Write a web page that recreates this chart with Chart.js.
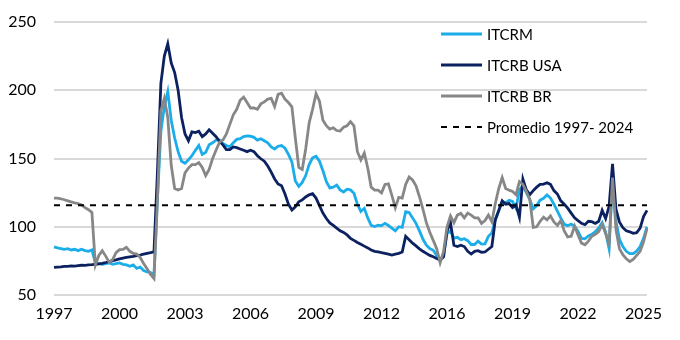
<!DOCTYPE html>
<html>
<head>
<meta charset="utf-8">
<script src="https://cdn.jsdelivr.net/npm/chart.js@4.4.1/dist/chart.umd.min.js"></script>
<style>
html, body { margin: 0; padding: 0; background: #fff; }
</style>
</head>
<body>
<canvas id="chart" width="680" height="340"></canvas>
<script>
// bimonthly points, Jan 1997 -> Sep 2025
const startYear = 1997;
const tickYears = ['1997', '2000', '2003', '2006', '2009', '2012', '2016', '2019', '2022', '2025'];
const tickStep = 19; // one label every 38 months

const itcrm = [
    85.3, 84.5, 84, 83.5, 84, 83, 83.5, 82.5, 83.5, 82.5, 82, 83,
    73.5, 73, 72.5, 73, 73.5, 72.5, 73, 73.5, 72.5, 72, 71, 72,
    69.5, 70.5, 68, 67, 66.5, 65, 120, 170, 188, 199, 178, 165,
    155, 148, 146.5, 149, 152, 156, 159.5, 153, 154.5, 160, 161.5, 163.5,
    163.5, 161, 159.5, 158.5, 161.5, 164, 164.5, 166, 166.5, 166.3, 165.5, 163.5,
    164.5, 163, 161.5, 158.5, 157, 159, 159.5, 157.5, 153, 147.5, 133.5, 129.5,
    132.5, 137.5, 145.5, 150.5, 151.7, 148, 141, 133, 128.5, 129, 130.5, 127,
    125.5, 127.5, 127, 124.5, 116.5, 111.2, 113.5, 106.5, 101, 100.2, 101.1, 100.8,
    102.5, 100.9, 99, 97, 100, 99.5, 111, 110.5, 106.5, 102.5, 97, 91,
    86.5, 84, 82.8, 79, 74.7, 80, 95, 97, 91.6, 92.3, 90.5, 91.2,
    89.8, 87, 87, 89.5, 87.3, 87.5, 93, 95.5, 105.3, 111.5, 118.5, 117.5,
    119.3, 118.5, 113.6, 127, 130, 125, 120, 113.2, 115.5, 119.5, 120.8, 123.3,
    121, 116.5, 111.5, 106.3, 101.8, 100.8, 102, 100.3, 96.5, 91.5, 91.2, 93.3,
    94.5, 96.5, 99, 103, 96, 84, 134, 104, 91, 85.5, 82, 80.3,
    80.3, 82.2, 85.5, 91.5, 100
];

const itcrbUsa = [
    70.2, 70.4, 70.6, 70.9, 71, 71.3, 71.2, 71.5, 71.8, 71.7, 72, 72.2,
    72.5, 72.8, 73.2, 73.8, 74.5, 75.2, 75.8, 76.5, 77, 77.5, 78, 78.3,
    78.8, 79.3, 80, 80.5, 81, 81.6, 140, 205, 225, 234, 220, 213,
    200, 180, 168, 163, 169.5, 169, 170, 166, 168, 171, 168.5, 166,
    162.5, 160, 156.5, 156.5, 158.5, 158, 157, 156, 155, 156, 155, 152,
    149.8, 148, 144.5, 140, 135, 131.3, 130, 124, 116.5, 112.3, 114.6, 118.3,
    119.7, 121.8, 123.4, 124.3, 121, 115.5, 110, 106, 102.8, 101, 99, 97,
    95.8, 94, 91.5, 90, 88.5, 87.2, 85.8, 84.5, 83, 82, 81.6, 81,
    80.5, 80, 79.3, 80, 80.5, 81.5, 93, 90.5, 88, 86, 83.8, 82,
    80.5, 79, 78, 76.8, 75.6, 78, 97, 103, 86.5, 85.5, 86.5, 85.5,
    82, 80, 82, 82.5, 81.3, 81.5, 83.5, 85.5, 105, 112, 119, 116.5,
    117, 114, 116, 107, 135, 127, 123.5, 126.5, 129, 131, 131.2, 132.2,
    131, 126.5, 124, 119, 116.5, 113.6, 110, 106.5, 104.5, 102.5, 101.5, 104,
    103.7, 102.4, 104, 112, 106, 115, 146, 113, 103.5, 99.3, 97, 96.3,
    95.2, 95.6, 99, 107.5, 112
];

const itcrbBr = [
    121, 121, 120.5, 119.8, 119, 118.2, 117.5, 117, 116, 114, 112.5, 110.5,
    72, 79, 82.5, 78.5, 74, 76, 81, 83.2, 83.4, 85, 82, 80.5,
    80, 77.5, 73, 69.3, 65, 62, 120, 185, 194, 180, 145, 128,
    127, 128, 139.5, 143, 145.5, 145.5, 147, 143.5, 137.5, 142, 150, 156,
    162, 163.5, 168, 175, 182, 186, 192.7, 195, 191, 187, 187, 186,
    190, 191.5, 193.5, 194, 188, 197, 197.8, 193.5, 191, 187.8, 165, 143.5,
    142, 157, 176, 186, 197.5, 192, 178, 174, 171.5, 172.5, 170.5, 170.2,
    173, 174, 177, 174, 155, 149, 154, 143, 129, 126.8, 126.8, 124.8,
    131, 131.5, 123, 114, 121.5, 121, 131, 136.4, 134.3, 130, 122, 113,
    103, 96, 90, 84, 73.7, 82, 100, 108, 103, 108.5, 109.8, 106.5,
    110, 108.5, 106.5, 106.5, 102.5, 104.5, 108.5, 103.7, 117, 128, 136, 128,
    126.8, 125.8, 123.5, 133, 131, 126, 120, 99.5, 100, 104, 107, 105,
    108, 103.5, 101, 104.5, 97, 92.5, 93, 100.5, 94, 88, 86.8, 89.5,
    93, 94.5, 96.5, 101.5, 95, 87.5, 136, 98, 84, 79.5, 76.5, 74.5,
    76, 79, 82, 89, 98.8
];

const promedio = 115.8;
const seriesNames = ['ITCRM', 'ITCRB USA', 'ITCRB BR', 'Promedio 1997- 2024'];

const months = itcrm.map((v, i) => {
    const m = i * 2;
    return (startYear + Math.floor(m / 12)) + '-' + String(m % 12 + 1).padStart(2, '0');
});

const fontFamily = 'Lato, "Open Sans", sans-serif';

// legend sits inside the plot, top right, like the original
const insideLegend = {
    id: 'insideLegend',
    afterDraw(chart) {
        const ctx = chart.ctx;
        ctx.save();
        ctx.font = '15px ' + fontFamily;
        ctx.textBaseline = 'middle';
        chart.data.datasets.forEach((ds, i) => {
            const y = 34 + i * 31;
            ctx.strokeStyle = ds.borderColor;
            ctx.lineWidth = ds.borderWidth;
            ctx.setLineDash(ds.borderDash || []);
            ctx.beginPath();
            ctx.moveTo(441, y);
            ctx.lineTo(482, y);
            ctx.stroke();
            ctx.setLineDash([]);
            ctx.fillStyle = '#000';
            ctx.fillText(ds.label, 487, y + 1);
        });
        ctx.restore();
    }
};

new Chart(document.getElementById('chart'), {
    type: 'line',
    data: {
        labels: months,
        datasets: [
            { label: seriesNames[0], data: itcrm, borderColor: '#1badea', borderWidth: 2.8, order: 3 },
            { label: seriesNames[1], data: itcrbUsa, borderColor: '#0c2160', borderWidth: 2.8, order: 2 },
            { label: seriesNames[2], data: itcrbBr, borderColor: '#878787', borderWidth: 2.8, order: 1 },
            { label: seriesNames[3], data: months.map(() => promedio), borderColor: '#000', borderWidth: 2, borderDash: [6, 6], order: 0 }
        ]
    },
    options: {
        responsive: false,
        animation: false,
        elements: {
            point: { radius: 0 },
            line: { tension: 0, borderCapStyle: 'butt' }
        },
        layout: {
            padding: { top: 22, right: 33, left: 0, bottom: 0 }
        },
        plugins: {
            legend: { display: false },
            tooltip: { enabled: false }
        },
        scales: {
            x: {
                offset: false,
                grid: { display: false, drawTicks: false },
                border: { display: false },
                ticks: {
                    autoSkip: false,
                    maxRotation: 0,
                    padding: 9,
                    color: '#000',
                    font: { family: fontFamily, size: 16 },
                    callback: function(value, index) {
                        return index % tickStep === 0 ? tickYears[index / tickStep] : null;
                    }
                },
                afterFit: function(scale) { scale.height = 45; }
            },
            y: {
                min: 50,
                max: 250,
                grid: {
                    color: '#d9d9d9',
                    lineWidth: 2,
                    drawTicks: true,
                    tickLength: 14,
                    tickColor: 'rgba(0,0,0,0)'
                },
                border: { display: false },
                ticks: {
                    stepSize: 50,
                    padding: 4,
                    color: '#000',
                    font: { family: fontFamily, size: 16 }
                },
                afterFit: function(scale) { scale.width = 54; }
            }
        }
    },
    plugins: [insideLegend]
});
</script>
</body>
</html>
